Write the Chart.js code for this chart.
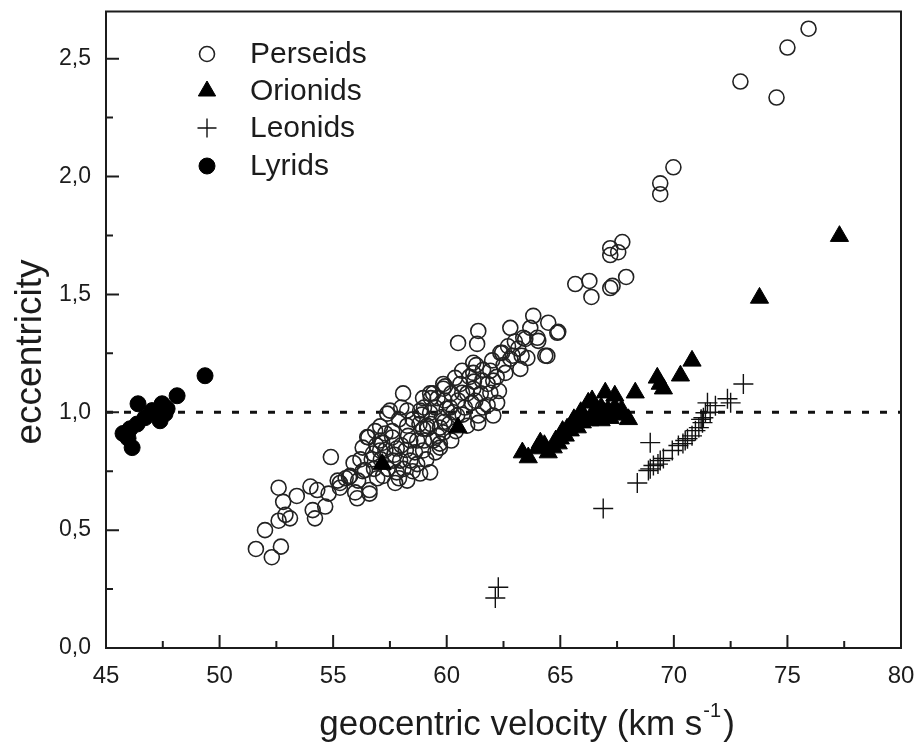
<!DOCTYPE html>
<html>
<head>
<meta charset="utf-8">
<script src="https://cdn.jsdelivr.net/npm/chart.js@4/dist/chart.umd.min.js"></script>
<style>
    html, body { margin: 0; padding: 0; background: #ffffff; }
    #wrap { width: 915px; height: 746px; }
</style>
</head>
<body>
<div id="wrap"><canvas id="meteorChart" width="915" height="746"></canvas></div>
<script>
// velocity (km/s), eccentricity
var perseids = [
    [51.6, 0.42], [52.3, 0.385], [52.7, 0.43], [52.0, 0.50], [52.6, 0.54], [52.9, 0.565], [53.1, 0.55],
    [52.6, 0.68], [52.8, 0.62], [53.4, 0.645], [54.0, 0.685], [54.3, 0.67], [54.2, 0.55], [54.1, 0.585],
    [54.65, 0.60], [54.8, 0.655], [54.9, 0.81], [55.3, 0.68], [55.2, 0.71], [55.55, 0.72], [55.7, 0.725],
    [55.97, 0.66], [56.06, 0.635], [56.6, 0.655], [56.4, 0.755], [55.9, 0.785], [56.75, 0.825], [56.5, 0.895],
    [55.75, 0.73], [55.3, 0.70], [56.3, 0.75], [56.6, 0.67],
    [56.85, 0.92], [57.07, 0.94], [57.16, 0.87], [57.2, 0.73], [57.38, 0.994], [57.5, 1.007], [57.64, 0.795],
    [57.73, 0.70], [57.8, 0.745], [57.8, 0.846], [57.95, 0.795], [57.07, 0.88], [56.55, 0.893], [56.3, 0.85],
    [56.94, 0.72], [58.08, 1.08], [58.26, 1.007], [58.26, 0.943], [58.26, 0.71], [58.4, 0.795], [58.4, 0.88],
    [58.7, 0.88], [58.83, 0.74], [58.83, 1.007], [58.96, 0.93], [58.96, 0.838], [59.14, 0.93], [59.27, 0.745],
    [59.27, 1.08], [59.27, 0.998], [59.4, 0.88], [59.4, 1.08], [59.7, 0.935], [59.7, 0.85], [59.7, 0.867],
    [59.85, 1.10], [59.85, 0.914], [60.0, 1.015], [60.15, 1.02], [59.14, 0.943], [59.93, 1.11], [60.37, 1.146],
    [58.96, 1.06], [57.6, 0.893], [57.07, 0.838],
    [57.3, 0.84], [57.6, 0.92], [57.9, 0.97], [58.0, 0.86], [58.1, 0.76], [58.5, 0.97], [58.6, 0.83],
    [58.7, 0.78], [58.9, 0.99], [59.0, 0.88], [59.1, 0.80], [59.3, 0.95], [59.5, 1.02], [59.6, 0.90],
    [59.8, 0.98], [59.9, 1.05], [60.1, 0.95], [60.2, 1.08], [60.3, 1.00], [60.5, 1.05], [60.6, 1.12],
    [60.8, 1.02], [60.9, 1.08], [61.0, 1.15], [61.1, 1.04], [61.3, 1.20], [61.5, 1.08], [61.6, 1.18],
    [61.8, 1.12], [62.0, 1.22], [62.2, 1.15], [62.5, 1.20], [62.7, 1.28], [63.0, 1.30], [63.3, 1.24],
    [57.1, 0.80], [57.4, 0.76], [56.9, 0.86], [56.7, 0.80], [58.3, 0.90], [58.0, 1.02], [59.6, 1.06],
    [60.4, 0.92], [61.8, 1.03],
    [56.2, 0.80], [56.8, 0.76], [57.3, 0.91], [57.7, 0.82], [58.2, 0.84], [58.5, 0.75], [58.8, 0.95],
    [59.0, 1.02], [59.5, 0.83], [59.9, 0.96], [60.2, 0.88], [60.7, 0.99], [61.2, 1.13], [61.6, 1.02],
    [62.3, 1.09], [62.9, 1.24], [57.9, 0.72], [56.1, 0.71],
    [60.5, 1.294], [61.39, 1.345], [61.34, 1.29], [62.8, 1.358], [63.81, 1.409], [63.68, 1.358], [64.47, 1.38],
    [64.87, 1.337], [63.37, 1.316], [64.03, 1.303], [63.15, 1.27], [64.34, 1.24], [62.36, 1.252], [62.8, 1.227],
    [63.55, 1.23], [63.24, 1.184], [62.58, 1.167], [61.92, 1.176], [61.17, 1.167], [60.68, 1.176], [61.56, 1.134],
    [62.05, 1.134], [61.17, 1.10], [60.68, 1.083], [59.85, 1.12], [59.3, 1.06], [61.26, 1.049], [61.92, 1.083],
    [62.22, 1.04], [62.05, 0.986], [61.39, 0.986], [61.39, 0.955], [60.46, 0.986], [60.9, 0.943], [61.17, 1.21],
    [62.44, 1.252], [63.99, 1.316], [63.46, 1.311], [64.43, 1.239], [64.91, 1.341],
    [65.66, 1.544], [66.28, 1.557], [66.37, 1.489], [67.3, 1.536], [67.2, 1.527], [67.9, 1.574], [67.73, 1.722],
    [67.2, 1.696], [67.55, 1.679], [67.2, 1.667], [69.4, 1.925], [69.4, 1.971], [69.98, 2.039], [72.93, 2.403],
    [74.52, 2.335], [75.0, 2.547], [75.93, 2.627]
];

var orionids = [
    [57.16, 0.78], [60.5, 0.935], [63.33, 0.829], [63.59, 0.808], [64.12, 0.871], [63.99, 0.846], [64.47, 0.829],
    [64.69, 0.85], [64.91, 0.867], [65.0, 0.888], [65.22, 0.90], [65.44, 0.922], [65.75, 0.935], [65.97, 0.956],
    [66.23, 1.04], [66.54, 1.015], [66.8, 1.02], [67.1, 1.01], [67.4, 1.02], [67.6, 0.99], [66.6, 0.985],
    [66.0, 0.99], [66.3, 0.965], [66.8, 0.965], [67.4, 1.07], [66.98, 1.083], [68.3, 1.083], [69.27, 1.146],
    [69.4, 1.12], [69.54, 1.10], [70.29, 1.155], [70.8, 1.218], [73.77, 1.485], [77.29, 1.747], [65.5, 0.95],
    [65.8, 0.97], [67.2, 0.975], [68.0, 0.97],
    [64.3, 0.86], [64.8, 0.88], [65.3, 0.93], [65.6, 0.97], [65.9, 1.00], [66.1, 0.97], [66.5, 0.99],
    [66.9, 1.00], [67.3, 0.99], [67.7, 1.01], [66.4, 1.05], [65.1, 0.92]
];

var leonids = [
    [73.06, 1.12], [72.36, 1.057], [72.5, 1.04], [71.83, 1.028], [71.48, 1.04], [71.39, 0.998], [71.3, 0.977],
    [71.26, 0.956], [71.1, 0.935], [70.95, 0.922], [70.8, 0.90], [70.6, 0.888], [70.4, 0.867], [70.2, 0.859],
    [69.93, 0.838], [69.54, 0.804], [69.4, 0.795], [69.1, 0.774], [68.96, 0.76], [68.88, 0.753], [68.96, 0.871],
    [68.39, 0.70], [66.89, 0.592], [62.27, 0.258], [62.14, 0.212], [71.6, 1.0], [71.2, 0.97], [70.5, 0.88],
    [69.3, 0.78]
];

var lyrids = [
    [49.36, 1.155], [46.41, 1.036], [48.13, 1.07], [47.47, 1.036], [47.6, 0.994], [47.38, 0.964], [46.72, 0.977],
    [46.37, 0.95], [46.06, 0.93], [45.75, 0.91], [46.15, 0.85], [45.97, 0.89], [47.03, 1.007], [47.69, 1.015]
];

var parabolicLimit = [[45, 1.0], [80, 1.0]];

var xTicks = [45, 50, 55, 60, 65, 70, 75, 80];
var xMinorTicks = [47.5, 52.5, 57.5, 62.5, 67.5, 72.5, 77.5];
var yTicks = [0, 0.5, 1.0, 1.5, 2.0, 2.5];
var yMinorTicks = [0.25, 0.75, 1.25, 1.75, 2.25];

var inkColor = '#1c1c1c';
var fontName = "'Liberation Sans', Arial, sans-serif";

function toPoints(pairs) {
    return pairs.map(function (p) { return { x: p[0], y: p[1] }; });
}

// frame, inward ticks, axis titles and legend
var decorations = {
    id: 'decorations',
    afterDraw: function (chart) {
        var ctx = chart.ctx;
        var area = chart.chartArea;
        var xScale = chart.scales.x;
        var yScale = chart.scales.y;

        ctx.save();
        ctx.strokeStyle = inkColor;
        ctx.lineWidth = 2;
        ctx.strokeRect(area.left, area.top, area.right - area.left, area.bottom - area.top);

        ctx.beginPath();
        xTicks.forEach(function (v) {
            var px = xScale.getPixelForValue(v);
            ctx.moveTo(px, area.bottom);
            ctx.lineTo(px, area.bottom - 13);
        });
        xMinorTicks.forEach(function (v) {
            var px = xScale.getPixelForValue(v);
            ctx.moveTo(px, area.bottom);
            ctx.lineTo(px, area.bottom - 7);
        });
        yTicks.forEach(function (v) {
            var py = yScale.getPixelForValue(v);
            ctx.moveTo(area.left, py);
            ctx.lineTo(area.left + 13, py);
        });
        yMinorTicks.forEach(function (v) {
            var py = yScale.getPixelForValue(v);
            ctx.moveTo(area.left, py);
            ctx.lineTo(area.left + 7, py);
        });
        ctx.stroke();

        //Axis titles.
        ctx.fillStyle = inkColor;
        ctx.textBaseline = 'alphabetic';
        ctx.textAlign = 'left';
        var mainText = 'geocentric velocity (km s';
        var supText = '-1';
        ctx.font = '35px ' + fontName;
        var mainWidth = ctx.measureText(mainText).width;
        var closeWidth = ctx.measureText(')').width;
        ctx.font = '20px ' + fontName;
        var supWidth = ctx.measureText(supText).width;
        var startX = 527 - (mainWidth + supWidth + closeWidth + 3) / 2;
        ctx.font = '35px ' + fontName;
        ctx.fillText(mainText, startX, 735);
        ctx.font = '20px ' + fontName;
        ctx.fillText(supText, startX + mainWidth + 1, 717);
        ctx.font = '35px ' + fontName;
        ctx.fillText(')', startX + mainWidth + supWidth + 3, 735);

        ctx.save();
        ctx.translate(41, 352);
        ctx.rotate(-Math.PI / 2);
        ctx.textAlign = 'center';
        ctx.font = '37px ' + fontName;
        ctx.fillText('eccentricity', 0, 0);
        ctx.restore();

        //Legend.
        var legendRows = [54, 91, 128, 166];
        ctx.font = '30px ' + fontName;
        ctx.textAlign = 'left';
        ctx.textBaseline = 'middle';
        var legendSets = chart.data.datasets.filter(function (ds) { return ds.label; });
        legendSets.forEach(function (ds, i) {
            var y = legendRows[i];
            ctx.fillStyle = ds.backgroundColor;
            ctx.strokeStyle = ds.borderColor;
            ctx.lineWidth = ds.borderWidth;
            Chart.helpers.drawPoint(ctx, {
                pointStyle: ds.pointStyle,
                radius: ds.legendRadius,
                rotation: 0,
                borderWidth: ds.borderWidth
            }, 207, y);
            ctx.fillStyle = inkColor;
            ctx.fillText(ds.label, 250, y + 1);
        });
        ctx.restore();
    }
};

var meteorChart = new Chart(document.getElementById('meteorChart'), {
    type: 'scatter',
    data: {
        datasets: [
            {
                label: 'Perseids',
                data: toPoints(perseids),
                pointStyle: 'circle',
                pointRadius: 7.5,
                legendRadius: 7.5,
                backgroundColor: 'rgba(0,0,0,0)',
                borderColor: '#222222',
                borderWidth: 1.6,
                order: 3
            },
            {
                label: 'Orionids',
                data: toPoints(orionids),
                pointStyle: 'triangle',
                pointRadius: 10.5,
                legendRadius: 10,
                backgroundColor: '#000000',
                borderColor: '#000000',
                borderWidth: 1,
                order: 1
            },
            {
                label: 'Leonids',
                data: toPoints(leonids),
                pointStyle: 'cross',
                pointRadius: 10,
                legendRadius: 9.5,
                backgroundColor: '#111111',
                borderColor: '#111111',
                borderWidth: 1.4,
                order: 2
            },
            {
                label: 'Lyrids',
                data: toPoints(lyrids),
                pointStyle: 'circle',
                pointRadius: 8,
                legendRadius: 8,
                backgroundColor: '#000000',
                borderColor: '#000000',
                borderWidth: 1,
                order: 1
            },
            {
                label: '',
                type: 'line',
                data: toPoints(parabolicLimit),
                borderColor: '#111111',
                borderWidth: 3,
                borderDash: [7, 11],
                pointRadius: 0,
                fill: false,
                order: 5
            }
        ]
    },
    options: {
        responsive: false,
        animation: false,
        events: [],
        layout: {
            padding: { top: 10, right: 14, left: 0, bottom: 0 }
        },
        scales: {
            x: {
                type: 'linear',
                min: 45,
                max: 80,
                afterFit: function (scale) {
                    scale.height = 98;
                    scale.paddingLeft = 0;
                    scale.paddingRight = 0;
                },
                afterBuildTicks: function (scale) {
                    scale.ticks = xTicks.map(function (v) { return { value: v }; });
                },
                grid: { display: false },
                border: { display: false },
                ticks: {
                    padding: 6,
                    color: inkColor,
                    font: { family: fontName, size: 24 },
                    maxRotation: 0,
                    callback: function (v) { return String(v); }
                }
            },
            y: {
                type: 'linear',
                min: 0,
                max: 2.7,
                afterFit: function (scale) {
                    scale.width = 106;
                    scale.paddingTop = 0;
                    scale.paddingBottom = 0;
                },
                afterBuildTicks: function (scale) {
                    scale.ticks = yTicks.map(function (v) { return { value: v }; });
                },
                grid: { display: false },
                border: { display: false },
                ticks: {
                    padding: 7,
                    color: inkColor,
                    font: { family: fontName, size: 23 },
                    callback: function (v) { return v.toFixed(1).replace('.', ','); }
                }
            }
        },
        plugins: {
            legend: { display: false },
            tooltip: { enabled: false }
        }
    },
    plugins: [decorations]
});
</script>
</body>
</html>
